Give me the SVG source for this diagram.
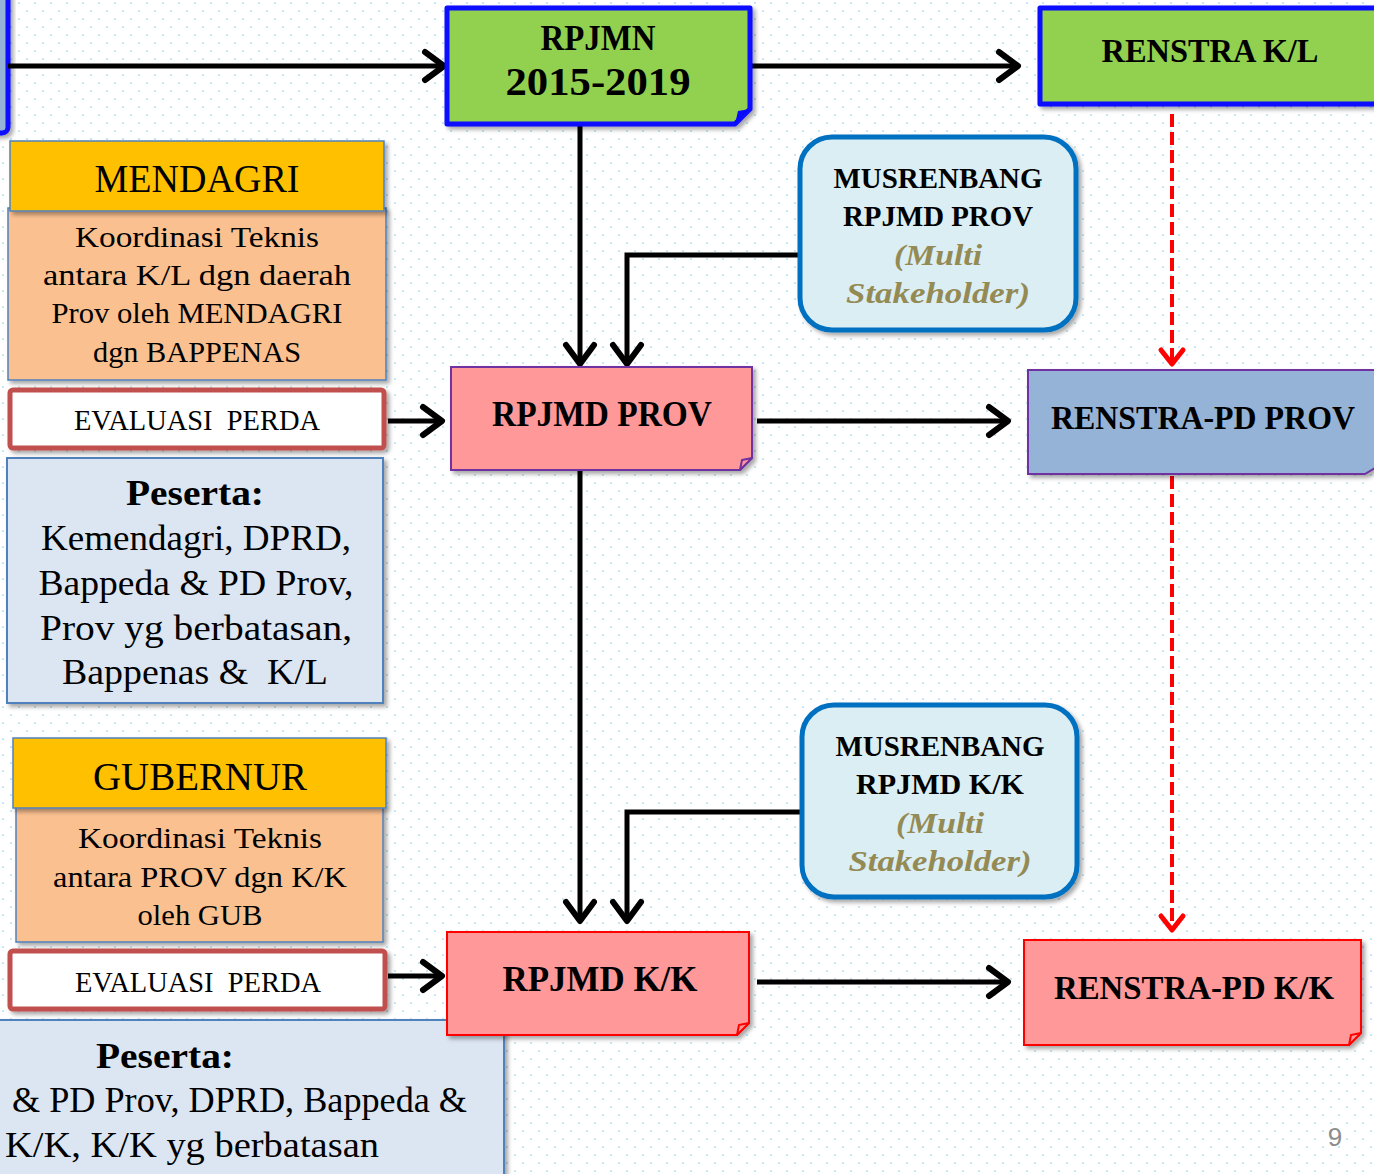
<svg xmlns="http://www.w3.org/2000/svg" width="1374" height="1174" viewBox="0 0 1374 1174">
<defs>
<pattern id="dots" width="16" height="16" patternUnits="userSpaceOnUse">
<rect x="2" y="2" width="2" height="2" fill="#c6e7f8"/>
<rect x="10" y="10" width="2" height="2" fill="#c6e7f8"/>
</pattern>
<filter id="sh" x="-10%" y="-10%" width="130%" height="130%">
<feDropShadow dx="3" dy="3" stdDeviation="2" flood-color="#000" flood-opacity="0.35"/>
</filter>
<marker id="ah" viewBox="-24 -18 30 36" markerWidth="30" markerHeight="36" refX="0" refY="0" orient="auto" markerUnits="userSpaceOnUse">
<path d="M-19,-14 L0,0 L-19,14" fill="none" stroke="#000" stroke-width="6" stroke-linecap="round" stroke-linejoin="round"/>
</marker>
<marker id="ahr" viewBox="-24 -18 30 36" markerWidth="30" markerHeight="36" refX="0" refY="0" orient="auto" markerUnits="userSpaceOnUse">
<path d="M-14,-11 L0,0 L-14,11" fill="none" stroke="#ff0000" stroke-width="5" stroke-linecap="round" stroke-linejoin="round"/>
</marker>
</defs>
<style>
text{font-family:"Liberation Serif","DejaVu Serif",serif;fill:#000;text-anchor:middle}
.b{font-weight:bold}
.it{font-style:italic;font-weight:bold;fill:#948a54}
.conn{fill:none;stroke:#000;stroke-width:5}
.red{fill:none;stroke:#ff0000;stroke-width:4;stroke-dasharray:13 5}
.green{fill:#92d050;stroke:#0a0aff;stroke-width:5;stroke-linejoin:round}
.pinkp{fill:#ff9999;stroke:#7030a0;stroke-width:2}
.pinkr{fill:#ff9999;stroke:#ff0000;stroke-width:2}
.bluep{fill:#95b3d7;stroke:#7030a0;stroke-width:2}
.mus{fill:#dbeef4;stroke:#0070c0;stroke-width:5}
.hdr{fill:#ffc000;stroke:#4f81bd;stroke-width:1.5}
.peach{fill:#fac090;stroke:#4f81bd;stroke-width:1.5}
.eval{fill:#fff;stroke:#c0504d;stroke-width:5}
.pes{fill:#dce6f2;stroke:#4f81bd;stroke-width:2}
</style>
<rect width="1374" height="1174" fill="#fff"/>
<rect width="1374" height="1174" fill="url(#dots)"/>

<g id="topleft-box">
<rect x="-30" y="-20" width="38" height="153" rx="6" fill="#95b3d7" stroke="#0a0aff" stroke-width="5" filter="url(#sh)"/>
</g>

<g id="connectors">
<line class="conn" x1="8" y1="66" x2="444" y2="66" marker-end="url(#ah)"/>
<line class="conn" x1="752" y1="66" x2="1018" y2="66" marker-end="url(#ah)"/>
<line class="conn" x1="580" y1="126" x2="580" y2="364" marker-end="url(#ah)"/>
<polyline class="conn" points="800,255 627,255 627,364" marker-end="url(#ah)"/>
<line class="conn" x1="757" y1="421" x2="1008" y2="421" marker-end="url(#ah)"/>
<line class="conn" x1="388" y1="421" x2="442" y2="421" marker-end="url(#ah)"/>
<line class="conn" x1="580" y1="471" x2="580" y2="921" marker-end="url(#ah)"/>
<polyline class="conn" points="800,812 627,812 627,921" marker-end="url(#ah)"/>
<line class="conn" x1="388" y1="976" x2="442" y2="976" marker-end="url(#ah)"/>
<line class="conn" x1="757" y1="982" x2="1008" y2="982" marker-end="url(#ah)"/>
<line class="red" x1="1172" y1="114" x2="1172" y2="364" marker-end="url(#ahr)"/>
<line class="red" x1="1172" y1="476" x2="1172" y2="930" marker-end="url(#ahr)"/>
</g>

<g id="rpjmn">
<path class="green" d="M447,8 H750 V109 L735,124 H447 Z" filter="url(#sh)"/>
<path d="M735,124 L738,111 L750,109 Z" fill="#0a0aff"/>
<text class="b" x="598" y="50" font-size="36" textLength="115" lengthAdjust="spacingAndGlyphs">RPJMN</text>
<text class="b" x="598" y="95" font-size="40" textLength="185" lengthAdjust="spacingAndGlyphs">2015-2019</text>
</g>

<g id="renstra-kl">
<path class="green" d="M1040,8 H1400 V90 L1374,104 H1040 Z" filter="url(#sh)"/>
<text class="b" x="1210" y="62" font-size="34" textLength="217" lengthAdjust="spacingAndGlyphs">RENSTRA K/L</text>
</g>

<g id="musrenbang-prov">
<rect class="mus" x="800" y="137" width="276" height="193" rx="32" filter="url(#sh)"/>
<text class="b" x="938" y="188" font-size="30" textLength="209" lengthAdjust="spacingAndGlyphs">MUSRENBANG</text>
<text class="b" x="938" y="226" font-size="30" textLength="190" lengthAdjust="spacingAndGlyphs">RPJMD PROV</text>
<text class="it" x="938" y="265" font-size="30" textLength="88" lengthAdjust="spacingAndGlyphs">(Multi</text>
<text class="it" x="938" y="303" font-size="30" textLength="184" lengthAdjust="spacingAndGlyphs">Stakeholder)</text>
</g>

<g id="rpjmd-prov">
<path class="pinkp" d="M451,367 H752 V458 L740,470 H451 Z" filter="url(#sh)"/>
<path d="M740,470 L742,460 L752,458 Z" fill="#ff9999" stroke="#7030a0" stroke-width="2" stroke-linejoin="round"/>
<text class="b" x="602" y="426" font-size="35" textLength="220" lengthAdjust="spacingAndGlyphs">RPJMD PROV</text>
</g>

<g id="renstra-pd-prov">
<path class="bluep" d="M1028,370 H1385 V462 L1365,474 H1028 Z" filter="url(#sh)"/>
<text class="b" x="1203" y="429" font-size="34" textLength="304" lengthAdjust="spacingAndGlyphs">RENSTRA-PD PROV</text>
</g>

<g id="mendagri">
<rect class="peach" x="8" y="208" width="378" height="172" filter="url(#sh)"/>
<rect class="hdr" x="10" y="141" width="374" height="70" filter="url(#sh)"/>
<text x="197" y="192" font-size="40" textLength="205" lengthAdjust="spacingAndGlyphs">MENDAGRI</text>
<text x="197" y="247" font-size="30" textLength="244" lengthAdjust="spacingAndGlyphs">Koordinasi Teknis</text>
<text x="197" y="285" font-size="30" textLength="308" lengthAdjust="spacingAndGlyphs">antara K/L dgn daerah</text>
<text x="197" y="323" font-size="30" textLength="291" lengthAdjust="spacingAndGlyphs">Prov oleh MENDAGRI</text>
<text x="197" y="362" font-size="30" textLength="208" lengthAdjust="spacingAndGlyphs">dgn BAPPENAS</text>
</g>

<g id="evaluasi-1">
<rect class="eval" x="10" y="390" width="374" height="58" rx="3" filter="url(#sh)"/>
<text x="197" y="430" font-size="30" textLength="246" lengthAdjust="spacingAndGlyphs" xml:space="preserve">EVALUASI  PERDA</text>
</g>

<g id="peserta-1">
<rect class="pes" x="7" y="458" width="376" height="245" filter="url(#sh)"/>
<text class="b" x="195" y="505" font-size="35" textLength="138" lengthAdjust="spacingAndGlyphs">Peserta:</text>
<text x="196" y="550" font-size="35" textLength="310" lengthAdjust="spacingAndGlyphs">Kemendagri, DPRD,</text>
<text x="196" y="595" font-size="35" textLength="315" lengthAdjust="spacingAndGlyphs">Bappeda &amp; PD Prov,</text>
<text x="196" y="640" font-size="35" textLength="312" lengthAdjust="spacingAndGlyphs">Prov yg berbatasan,</text>
<text x="195" y="684" font-size="35" textLength="266" lengthAdjust="spacingAndGlyphs" xml:space="preserve">Bappenas &amp;  K/L</text>
</g>

<g id="gubernur">
<rect class="peach" x="16" y="806" width="367" height="136" filter="url(#sh)"/>
<rect class="hdr" x="13" y="738" width="373" height="70" filter="url(#sh)"/>
<text x="200" y="790" font-size="40" textLength="214" lengthAdjust="spacingAndGlyphs">GUBERNUR</text>
<text x="200" y="848" font-size="30" textLength="244" lengthAdjust="spacingAndGlyphs">Koordinasi Teknis</text>
<text x="200" y="887" font-size="30" textLength="294" lengthAdjust="spacingAndGlyphs">antara PROV dgn K/K</text>
<text x="200" y="925" font-size="30" textLength="125" lengthAdjust="spacingAndGlyphs">oleh GUB</text>
</g>

<g id="evaluasi-2">
<rect class="eval" x="10" y="951" width="375" height="58" rx="3" filter="url(#sh)"/>
<text x="198" y="992" font-size="30" textLength="246" lengthAdjust="spacingAndGlyphs" xml:space="preserve">EVALUASI  PERDA</text>
</g>

<g id="peserta-2">
<rect class="pes" x="-10" y="1020" width="514" height="170" filter="url(#sh)"/>
<text class="b" x="165" y="1068" font-size="35" textLength="138" lengthAdjust="spacingAndGlyphs">Peserta:</text>
<text x="12" y="1112" font-size="35" text-anchor="start" style="text-anchor:start" textLength="455" lengthAdjust="spacingAndGlyphs">&amp; PD Prov, DPRD, Bappeda &amp;</text>
<text x="5" y="1157" font-size="35" style="text-anchor:start" textLength="374" lengthAdjust="spacingAndGlyphs">K/K, K/K yg berbatasan</text>
</g>

<g id="musrenbang-kk">
<rect class="mus" x="802" y="705" width="275" height="192" rx="32" filter="url(#sh)"/>
<text class="b" x="940" y="756" font-size="30" textLength="209" lengthAdjust="spacingAndGlyphs">MUSRENBANG</text>
<text class="b" x="940" y="794" font-size="30" textLength="168" lengthAdjust="spacingAndGlyphs">RPJMD K/K</text>
<text class="it" x="940" y="833" font-size="30" textLength="88" lengthAdjust="spacingAndGlyphs">(Multi</text>
<text class="it" x="940" y="871" font-size="30" textLength="183" lengthAdjust="spacingAndGlyphs">Stakeholder)</text>
</g>

<g id="rpjmd-kk">
<path class="pinkr" d="M447,932 H749 V1023 L737,1035 H447 Z" filter="url(#sh)"/>
<path d="M737,1035 L739,1025 L749,1023 Z" fill="#ff9999" stroke="#ff0000" stroke-width="2" stroke-linejoin="round"/>
<text class="b" x="600" y="991" font-size="35" textLength="195" lengthAdjust="spacingAndGlyphs">RPJMD K/K</text>
</g>

<g id="renstra-pd-kk">
<path class="pinkr" d="M1024,940 H1361 V1033 L1349,1045 H1024 Z" filter="url(#sh)"/>
<path d="M1349,1045 L1351,1035 L1361,1033 Z" fill="#ff9999" stroke="#ff0000" stroke-width="2" stroke-linejoin="round"/>
<text class="b" x="1194" y="999" font-size="34" textLength="280" lengthAdjust="spacingAndGlyphs">RENSTRA-PD K/K</text>
</g>

<text x="1335" y="1146" font-size="26" style="font-family:'Liberation Sans',Arial,sans-serif;fill:#8c8c8c">9</text>
</svg>
